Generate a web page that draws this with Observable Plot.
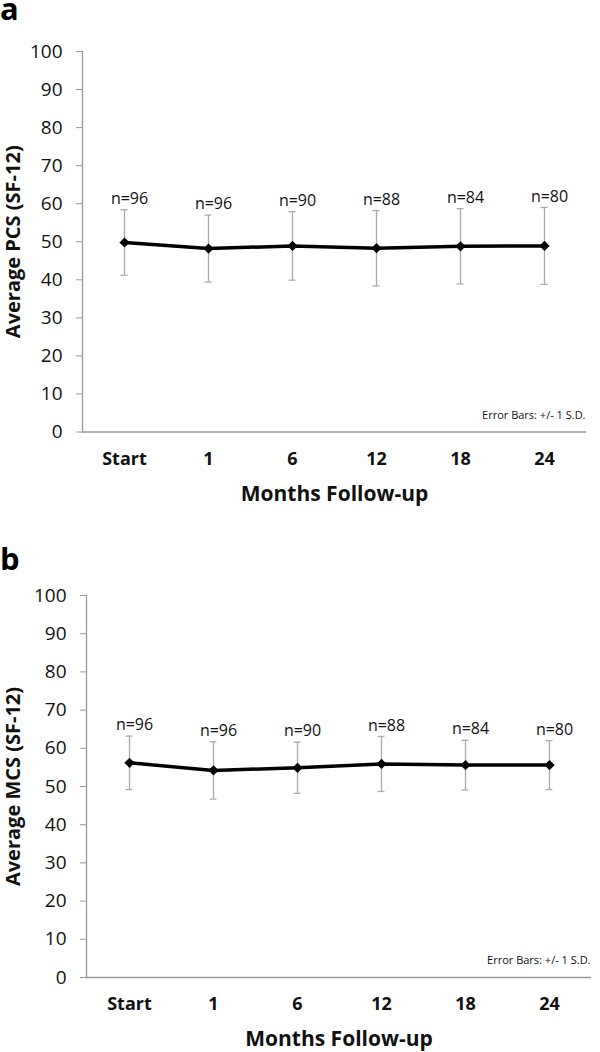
<!DOCTYPE html>
<html><head><meta charset="utf-8">
<script src="https://cdn.jsdelivr.net/npm/d3@7"></script>
<script src="https://cdn.jsdelivr.net/npm/@observablehq/plot@0.6"></script>
<style>
body{margin:0;background:#fff;font-family:"Open Sans",sans-serif;}
#wrap{position:relative;width:600px;height:1052px;overflow:hidden;background:#fff}
.panel{position:absolute;left:0;width:600px}
.letter{position:absolute;left:0;font-family:"Open Sans",sans-serif;font-weight:bold;font-size:31px;line-height:16px;height:24px;color:#000}
</style></head><body>
<div id="wrap">
  <div class="panel" id="pa" style="top:0"></div>
  <div class="panel" id="pb" style="top:526px"></div>
  <div class="letter" style="top:0">a</div>
  <div class="letter" style="top:550px">b</div>
</div>
<script>
const categories = ["Start", "1", "6", "12", "18", "24"];
const nLabels = ["n=96", "n=96", "n=90", "n=88", "n=84", "n=80"];
const pcsMean = [49.8, 48.2, 48.9, 48.3, 48.8, 48.9];
const pcsSD = [8.6, 8.8, 9.0, 9.9, 9.9, 10.1];
const mcsMean = [56.2, 54.2, 54.9, 55.9, 55.6, 55.6];
const mcsSD = [7.0, 7.5, 6.7, 7.2, 6.5, 6.4];
const yTicks = [0, 10, 20, 30, 40, 50, 60, 70, 80, 90, 100];
const xTitle = "Months Follow-up";
const note = "Error Bars: +/- 1 S.D.";

function panel(mean, sd, ylabel, m) {
  const rows = categories.map((c, i) => ({cat: c, mean: mean[i], lo: mean[i] - sd[i], hi: mean[i] + sd[i], n: nLabels[i]}));
  const bw = (600 - m.left - m.right) / categories.length;
  const capInset = (bw - 7) / 2;
  const axisGray = "#999";
  const errGray = "#aaa";
  return Plot.plot({
    width: 600, height: m.height,
    marginTop: m.top, marginBottom: m.bottom, marginLeft: m.left, marginRight: m.right,
    style: {fontFamily: "'Open Sans', sans-serif", background: "white", overflow: "visible"},
    x: {type: "band", domain: categories, padding: 0},
    y: {domain: [0, 100]},
    marks: [
      Plot.ruleY([0], {stroke: axisGray, strokeWidth: 1.3}),
      Plot.frame({anchor: "left", stroke: axisGray, strokeWidth: 1.3}),
      Plot.axisY(yTicks, {tickSize: 6, tickPadding: 14, fontSize: 19, stroke: axisGray, fill: "#111", label: null}),
      Plot.axisX({tickSize: 0, tickPadding: 20, fontSize: 18, fontWeight: "bold", fill: "#111", label: null}),
      Plot.ruleX(rows, {x: "cat", y1: "lo", y2: "hi", stroke: errGray, strokeWidth: 1.3}),
      Plot.tickY(rows, {x: "cat", y: "lo", stroke: errGray, strokeWidth: 1.3, insetLeft: capInset, insetRight: capInset}),
      Plot.tickY(rows, {x: "cat", y: "hi", stroke: errGray, strokeWidth: 1.3, insetLeft: capInset, insetRight: capInset}),
      Plot.line(rows, {x: "cat", y: "mean", stroke: "#000", strokeWidth: 3.5}),
      Plot.dot(rows, {x: "cat", y: "mean", symbol: "diamond2", r: 4.6, fill: "#000", stroke: "none"}),
      Plot.text(rows, {x: "cat", y: "hi", text: "n", dx: 5, dy: -11, fontSize: 16, fill: "#111"}),
      Plot.text([ylabel], {text: d => d, frameAnchor: "left", dx: -(m.left - 13), rotate: -90, textAnchor: "middle", lineAnchor: "middle", fontSize: 20, fontWeight: "bold", fill: "#111"}),
      Plot.text([xTitle], {text: d => d, frameAnchor: "bottom", dy: 62, textAnchor: "middle", lineAnchor: "middle", fontSize: 21, fontWeight: "bold", fill: "#111"}),
      Plot.text([note], {text: d => d, frameAnchor: "bottom-right", dx: -1, dy: -17, textAnchor: "end", lineAnchor: "middle", fontSize: 11, fill: "#111"})
    ]
  });
}

document.getElementById("pa").append(panel(pcsMean, pcsSD, "Average PCS (SF-12)", {height: 520, top: 51, bottom: 88.5, left: 82, right: 14}));
document.getElementById("pb").append(panel(mcsMean, mcsSD, "Average MCS (SF-12)", {height: 526, top: 69, bottom: 75, left: 86, right: 9}));
</script>
</body></html>
